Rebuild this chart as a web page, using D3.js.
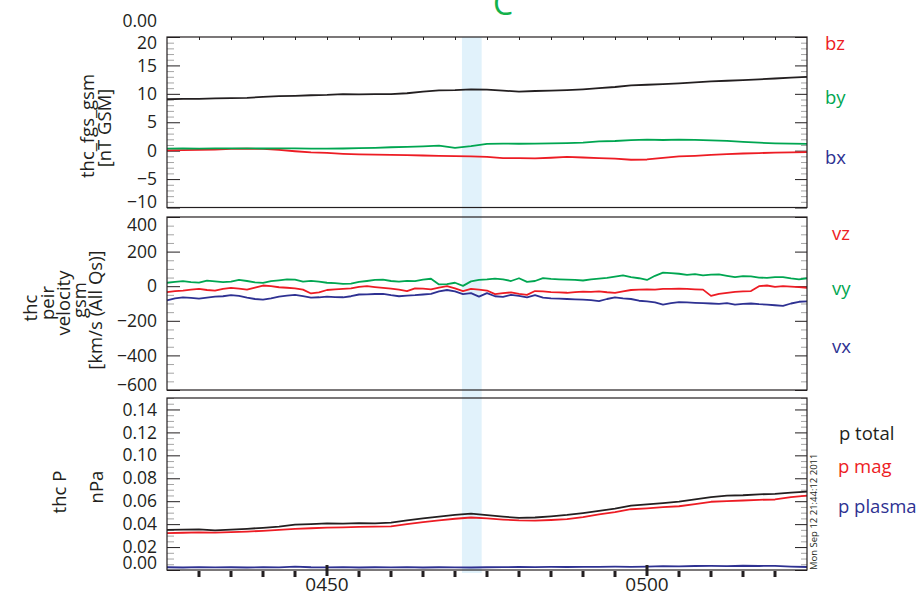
<!DOCTYPE html>
<html>
<head>
<meta charset="utf-8">
<script src="https://cdn.jsdelivr.net/npm/d3@7"></script>
<style>
  body { margin: 0; background: #fff; }
  text { font-family: "Open Sans", Lato, sans-serif; fill: #231f20; }
</style>
</head>
<body>
<script>
// time in seconds after 04:45:00 UT
var tStart = 0, tEnd = 1200;
var highlight = [553, 590];

// panel 1: thc_fgs_gsm, 30 s samples
var bStep = 30;
var bTotal = [9.05,9.1,9.1,9.2,9.25,9.3,9.45,9.6,9.65,9.75,9.8,9.95,9.9,9.95,9.95,10.1,10.4,10.6,10.65,10.8,
  10.75,10.55,10.4,10.5,10.55,10.65,10.8,11.0,11.2,11.5,11.6,11.7,11.85,12.0,12.2,12.3,12.4,12.55,12.7,12.85,13.0];
var bY = [0.35,0.38,0.36,0.4,0.42,0.4,0.38,0.42,0.4,0.36,0.35,0.38,0.45,0.5,0.6,0.65,0.75,0.88,0.5,0.8,
  1.2,1.25,1.22,1.25,1.3,1.32,1.4,1.65,1.7,1.85,1.93,1.88,1.95,1.9,1.8,1.72,1.55,1.4,1.3,1.25,1.2];
var bZ = [0.05,0.1,0.15,0.2,0.3,0.35,0.3,0.15,-0.1,-0.3,-0.4,-0.55,-0.65,-0.7,-0.75,-0.8,-0.85,-0.9,-0.95,-1.0,
  -1.1,-1.3,-1.3,-1.35,-1.25,-1.1,-1.2,-1.3,-1.4,-1.6,-1.55,-1.25,-1.0,-0.9,-0.75,-0.6,-0.5,-0.42,-0.35,-0.3,-0.25];

// panel 2: thc peir velocity gsm, 15 s samples
var vStep = 15;
var vY = [20,25,29,24,21,32,28,24,26,36,30,22,19,29,34,40,38,27,31,26,
  20,18,14,15,25,30,36,38,30,26,31,29,38,43,10,12,20,2,28,36,
  39,44,40,30,46,25,30,47,42,40,38,36,33,40,44,48,55,62,52,46,
  36,60,78,75,72,66,70,63,67,68,60,52,58,57,50,48,52,53,45,39,46];
var vZ = [-34,-28,-25,-20,-15,-22,-26,-16,-10,-14,-20,-8,4,0,-6,-9,-12,-20,-42,-36,
  -22,-18,-16,-13,-4,0,-5,-10,-14,-20,-28,-12,-14,-18,-8,0,-12,-28,-15,-20,
  -25,-46,-40,-36,-44,-50,-28,-30,-34,-36,-38,-34,-31,-33,-30,-35,-38,-30,-22,-20,
  -18,-20,-16,-15,-14,-16,-18,-20,-56,-44,-38,-33,-30,-28,0,4,-4,0,-3,-5,-9];
var vX = [-82,-70,-64,-68,-72,-66,-60,-58,-52,-56,-66,-74,-78,-70,-60,-55,-50,-58,-66,-64,
  -60,-63,-64,-58,-48,-47,-45,-44,-52,-58,-54,-52,-48,-44,-30,-22,-30,-46,-40,-60,
  -40,-58,-62,-50,-56,-64,-52,-66,-70,-72,-74,-76,-78,-80,-86,-74,-64,-70,-74,-84,
  -88,-94,-106,-98,-92,-94,-96,-98,-100,-102,-98,-106,-102,-100,-104,-106,-110,-114,-100,-90,-88];

// panel 3: thc P, 30 s samples
var pStep = 30;
var pTotal = [0.0350,0.0352,0.0355,0.0346,0.0352,0.0359,0.0368,0.0378,0.0395,0.0400,0.0406,0.0405,0.0409,0.0407,0.0413,
  0.0432,0.0450,0.0465,0.0480,0.0492,0.0478,0.0465,0.0455,0.0458,0.0468,0.0480,0.0496,0.0515,0.0535,0.0562,
  0.0572,0.0584,0.0597,0.0615,0.0635,0.0648,0.0652,0.0660,0.0664,0.0675,0.0684];
var pMag = [0.0321,0.0325,0.0328,0.0326,0.0330,0.0335,0.0342,0.0350,0.0358,0.0364,0.0370,0.0372,0.0376,0.0378,0.0380,
  0.0400,0.0418,0.0432,0.0447,0.0458,0.0450,0.0440,0.0432,0.0430,0.0436,0.0443,0.0462,0.0485,0.0505,0.0530,
  0.0538,0.0548,0.0556,0.0575,0.0595,0.0600,0.0606,0.0612,0.0615,0.0635,0.0648];
var pPlasma = [0.0024,0.0022,0.0025,0.0023,0.0024,0.0022,0.0025,0.0023,0.0030,0.0024,0.0023,0.0025,0.0022,0.0024,0.0023,
  0.0025,0.0022,0.0024,0.0023,0.0022,0.0024,0.0025,0.0026,0.0025,0.0027,0.0026,0.0028,0.0027,0.0029,0.0028,
  0.0030,0.0034,0.0032,0.0035,0.0036,0.0034,0.0037,0.0035,0.0036,0.0030,0.0026];

var xTickLabels = [[300, "0450"], [900, "0500"]];

var red = "#ed1c24", green = "#00a651", blue = "#2e3192", black = "#231f20";

var width = 924, height = 598;
var left = 167, right = 807;

var svg = d3.select("body").append("svg")
  .attr("width", width)
  .attr("height", height);

var x = d3.scaleLinear().domain([tStart, tEnd]).range([left, right]);

// highlight band across all panels
svg.append("rect")
  .attr("x", x(highlight[0]))
  .attr("y", 37)
  .attr("width", x(highlight[1]) - x(highlight[0]))
  .attr("height", 536)
  .attr("fill", "#e1f2fb");

// shiftTop / shiftBottom: how far the end labels are pushed inside the frame
var panels = [
  { top: 37, bottom: 207.5, domain: [-10, 20], major: [-10, -5, 0, 5, 10, 15, 20], minorStep: 1, fmt: d3.format("d"),
    shiftTop: 6, shiftBottom: -6,
    series: [[bZ, red, bStep], [bY, green, bStep], [bTotal, black, bStep]] },
  { top: 217, bottom: 390, domain: [-600, 400], major: [-600, -400, -200, 0, 200, 400], minorStep: 50, fmt: d3.format("d"),
    shiftTop: 8, shiftBottom: -5,
    series: [[vY, green, vStep], [vZ, red, vStep], [vX, blue, vStep]] },
  { top: 398, bottom: 570, domain: [0, 0.15], major: [0, 0.02, 0.04, 0.06, 0.08, 0.10, 0.12, 0.14], minorStep: 0.005, fmt: d3.format(".2f"),
    shiftTop: 0, shiftBottom: -7,
    series: [[pPlasma, blue, pStep], [pMag, red, pStep], [pTotal, black, pStep]] }
];

panels.forEach(function(p) {
  var y = d3.scaleLinear().domain(p.domain).range([p.bottom, p.top]);
  var minor = d3.range(p.domain[0], p.domain[1] + p.minorStep / 2, p.minorStep)
    .filter(function(v) { return !p.major.some(function(m) { return Math.abs(m - v) < p.minorStep / 10; }); });

  // minor ticks (grey) left and right
  svg.append("g").attr("transform", "translate(" + left + ",0)")
    .call(d3.axisLeft(y).tickValues(minor).tickSize(-7).tickFormat(""))
    .call(function(g) { g.select(".domain").remove(); g.selectAll("line").attr("stroke", "#a5a5a5"); });
  svg.append("g").attr("transform", "translate(" + right + ",0)")
    .call(d3.axisRight(y).tickValues(minor).tickSize(-6).tickFormat(""))
    .call(function(g) { g.select(".domain").remove(); g.selectAll("line").attr("stroke", "#a5a5a5"); });

  // major ticks + labels
  svg.append("g").attr("transform", "translate(" + left + ",0)")
    .call(d3.axisLeft(y).tickValues(p.major).tickSize(-13).tickPadding(10).tickFormat(p.fmt))
    .call(function(g) {
      g.select(".domain").remove();
      g.selectAll("line").attr("stroke", black);
      g.selectAll("text")
        .style("font-size", "17.5px")
        .attr("fill", black)
        .attr("y", function(d) {
          if (Math.abs(d - p.domain[1]) < 1e-9) return p.shiftTop;
          if (Math.abs(d - p.domain[0]) < 1e-9) return p.shiftBottom;
          return 0;
        });
    });
  svg.append("g").attr("transform", "translate(" + right + ",0)")
    .call(d3.axisRight(y).tickValues(p.major).tickSize(-12).tickFormat(""))
    .call(function(g) { g.select(".domain").remove(); g.selectAll("line").attr("stroke", black); });

  // data lines
  p.series.forEach(function(s) {
    var vals = s[0], step = s[2];
    svg.append("path")
      .datum(vals)
      .attr("fill", "none")
      .attr("stroke", s[1])
      .attr("stroke-width", 1.8)
      .attr("stroke-linejoin", "round")
      .attr("d", d3.line()
        .x(function(d, i) { return x(i * step); })
        .y(function(d) { return y(d); }));
  });

  // frame
  svg.append("rect")
    .attr("x", left).attr("y", p.top)
    .attr("width", right - left).attr("height", p.bottom - p.top)
    .attr("fill", "none").attr("stroke", black).attr("stroke-width", 1.2);
});

// small ticks on top of first panel
svg.append("g").attr("transform", "translate(0,37)")
  .call(d3.axisBottom(x).tickValues(d3.range(60, 1200, 60)).tickSize(3).tickFormat(""))
  .call(function(g) { g.select(".domain").remove(); g.selectAll("line").attr("stroke", black); });

// bottom time axis
var minuteTicks = d3.range(60, 1200, 60);
svg.append("g").selectAll("line")
  .data(minuteTicks)
  .join("line")
  .attr("x1", function(d) { return x(d); })
  .attr("x2", function(d) { return x(d); })
  .attr("y1", function(d) { return d % 600 === 300 ? 565 : 571; })
  .attr("y2", function(d) { return d % 600 === 300 ? 576 : 577; })
  .attr("stroke", black)
  .attr("stroke-width", 3);

svg.append("g").selectAll("text")
  .data(xTickLabels)
  .join("text")
  .attr("x", function(d) { return x(d[0]); })
  .attr("y", 591)
  .attr("text-anchor", "middle")
  .style("font-size", "19px")
  .text(function(d) { return d[1]; });

// cut-off label from panel above
svg.append("text")
  .attr("x", 157).attr("y", 27)
  .attr("text-anchor", "end")
  .style("font-size", "17.5px")
  .text("0.00");

// title letter (cut off at top)
svg.append("text")
  .attr("x", 503).attr("y", 15)
  .attr("text-anchor", "middle")
  .style("font-size", "32px")
  .style("fill", "#12b24b")
  .text("C");

// y axis titles (rotated)
function vtitle(txt, bx, cy) {
  svg.append("text")
    .attr("transform", "translate(" + bx + "," + cy + ") rotate(-90)")
    .attr("text-anchor", "middle")
    .style("font-size", "18.5px")
    .text(txt);
}
vtitle("thc_fgs_gsm", 94, 126);
vtitle("[nT GSM]", 111, 128);
vtitle("thc", 37, 308);
vtitle("peir", 54, 303);
vtitle("velocity", 70, 303);
vtitle("gsm", 86, 300);
vtitle("[km/s (All Qs)]", 102, 310);
vtitle("thc P", 66, 492);
vtitle("nPa", 103, 487);

// legends
var legend = [
  ["bz", red, 825, 50], ["by", green, 825, 104], ["bx", blue, 825, 164],
  ["vz", red, 832, 240], ["vy", green, 832, 295], ["vx", blue, 832, 353],
  ["p total", black, 839, 440], ["p mag", red, 838, 473], ["p plasma", blue, 838, 513]
];
svg.append("g").selectAll("text")
  .data(legend)
  .join("text")
  .attr("x", function(d) { return d[2]; })
  .attr("y", function(d) { return d[3]; })
  .style("font-size", "18.5px")
  .style("fill", function(d) { return d[1]; })
  .text(function(d) { return d[0]; });

// date stamp
svg.append("text")
  .attr("transform", "translate(817,570) rotate(-90)")
  .style("font-size", "9.5px")
  .text("Mon Sep 12 21:44:12 2011");
</script>
</body>
</html>
